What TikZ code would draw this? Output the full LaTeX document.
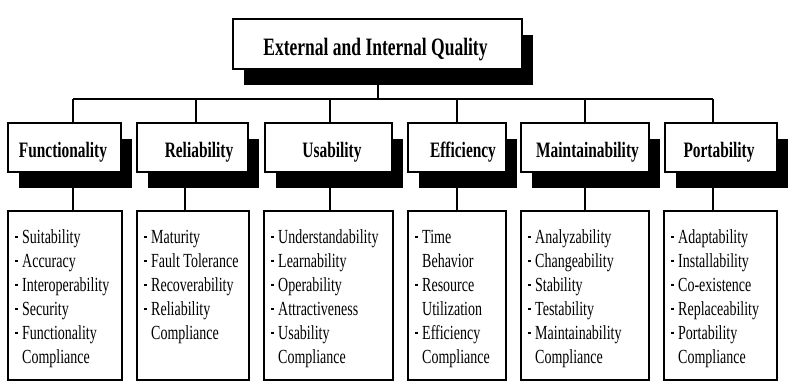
\documentclass[tikz,border=0pt]{standalone}
\usepackage{fontspec}
\setmainfont{Liberation Serif}[FakeStretch=0.7]
\usetikzlibrary{shadows}

% small square bullet, matching indent for wrapped lines, fixed first-line height
\newcommand\sqb{\makebox[7pt][l]{\rule[5pt]{2.4pt}{2.4pt}}}
\newcommand\cont{\hspace*{7pt}}
\newcommand\topstrut{\rule{0pt}{15pt}}

\begin{document}
\begin{tikzpicture}[x=1pt,y=-1pt,
  shadowed/.style={draw=black, line width=2pt, fill=white, inner sep=0pt,
    drop shadow={shadow xshift=11pt, shadow yshift=-16pt, fill=black, opacity=1}},
  titlebox/.style={shadowed, minimum width=289pt, minimum height=50pt},
  catbox/.style={shadowed, minimum height=49pt},
  detbox/.style={draw=black, line width=2.4pt, fill=white, inner sep=0pt, minimum height=169pt},
  titletext/.style={font=\fontsize{25}{30}\selectfont\bfseries, inner sep=0pt, anchor=base},
  cattext/.style={font=\fontsize{22}{26}\selectfont\bfseries, inner sep=0pt, anchor=base},
  dettext/.style={font=\fontsize{20}{24}\selectfont, align=left, inner sep=0pt, anchor=north west},
  wire/.style={line width=1.8pt}
]
\useasboundingbox (0,0) rectangle (802,388);

% top box
\node[titlebox] (top) at (377.5,44) {};
\node[titletext] (toplbl) at (375.5,55) {External and Internal Quality};

% characteristic boxes
\node[catbox, minimum width=113pt] (cF) at (64.5,147.5) {};
\node[catbox, minimum width=111pt] (cR) at (192.5,147.5) {};
\node[catbox, minimum width=127pt] (cU) at (328.5,147.5) {};
\node[catbox, minimum width=98pt]  (cE) at (457,147.5) {};
\node[catbox, minimum width=128pt] (cM) at (585,147.5) {};
\node[catbox, minimum width=112pt] (cP) at (721,147.5) {};

\node[cattext] (lF) at (63,157) {Functionality};
\node[cattext] (lR) at (199,157) {Reliability};
\node[cattext] (lU) at (332,157) {Usability};
\node[cattext] (lE) at (463,157) {Efficiency};
\node[cattext] (lM) at (587.5,157) {Maintainability};
\node[cattext] (lP) at (719,157) {Portability};

% sub-characteristic boxes
\node[detbox, minimum width=114pt] (dF) at (65,295.5) {};
\node[detbox, minimum width=112pt] (dR) at (193,295.5) {};
\node[detbox, minimum width=129pt] (dU) at (328.5,295.5) {};
\node[detbox, minimum width=98pt]  (dE) at (457,295.5) {};
\node[detbox, minimum width=128pt] (dM) at (585,295.5) {};
\node[detbox, minimum width=113pt] (dP) at (720.5,295.5) {};

\node[dettext] (tF) at (15,228) {\topstrut\sqb Suitability\\ \sqb Accuracy\\ \sqb Interoperability\\ \sqb Security\\ \sqb Functionality\\ \cont Compliance};
\node[dettext] (tR) at (144,228) {\topstrut\sqb Maturity\\ \sqb Fault Tolerance\\ \sqb Recoverability\\ \sqb Reliability\\ \cont Compliance};
\node[dettext] (tU) at (271,228) {\topstrut\sqb Understandability\\ \sqb Learnability\\ \sqb Operability\\ \sqb Attractiveness\\ \sqb Usability\\ \cont Compliance};
\node[dettext] (tE) at (415,228) {\topstrut\sqb Time\\ \cont Behavior\\ \sqb Resource\\ \cont Utilization\\ \sqb Efficiency\\ \cont Compliance};
\node[dettext] (tM) at (528,228) {\topstrut\sqb Analyzability\\ \sqb Changeability\\ \sqb Stability\\ \sqb Testability\\ \sqb Maintainability\\ \cont Compliance};
\node[dettext] (tP) at (671,228) {\topstrut\sqb Adaptability\\ \sqb Installability\\ \sqb Co-existence\\ \sqb Replaceability\\ \sqb Portability\\ \cont Compliance};

% bus taps and drop points
\coordinate (tq) at (378,85);
\coordinate (bF) at (73,99);
\coordinate (bR) at (196,99);
\coordinate (bU) at (330,99);
\coordinate (bE) at (457,99);
\coordinate (bM) at (585,99);
\coordinate (bP) at (713,99);
\coordinate (sF) at (73,188);
\coordinate (sR) at (185,188);
\coordinate (sU) at (330,188);
\coordinate (sE) at (457,188);
\coordinate (sM) at (585,188);
\coordinate (sP) at (713,188);

% connectors
\draw[wire] (tq) -- (tq |- bF);
\draw[wire] (bF) -- (bP);
\foreach \k in {F,R,U,E,M,P}{
  \draw[wire] (b\k) -- (b\k |- c\k.north);
  \draw[wire] (s\k) -- (s\k |- d\k.north);
}
\end{tikzpicture}
\end{document}
